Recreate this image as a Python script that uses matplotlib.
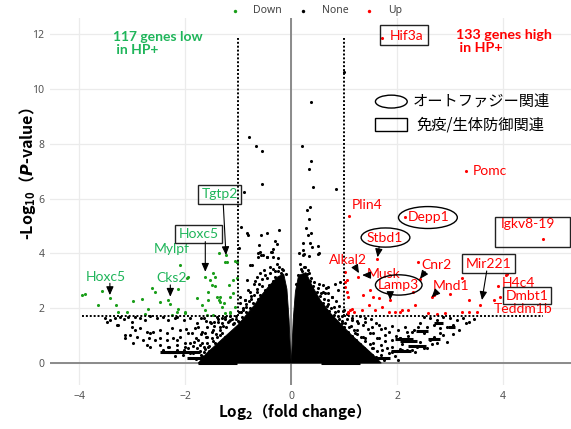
import matplotlib
matplotlib.use("Agg")
import matplotlib.pyplot as plt
from matplotlib.patches import Ellipse, Rectangle

plt.rcParams['mathtext.fontset'] = 'custom'
plt.rcParams['mathtext.rm'] = 'Noto Sans CJK JP:bold'
plt.rcParams['mathtext.bf'] = 'Noto Sans CJK JP:bold'
plt.rcParams['mathtext.it'] = 'DejaVu Sans:italic:bold'

# ---------------- data ----------------
# Down (green) genes
down_x = [-3.95, -3.89, -3.57, -3.64, -3.42, -3.30, -3.26, -3.10, -2.99, -2.82, -2.70, -2.75,
          -2.63, -2.57, -2.47, -2.32, -2.28, -2.25, -2.13, -2.09, -1.97, -1.94, -2.13, -2.00,
          -1.78, -1.68, -1.62, -1.53, -1.56, -1.56, -1.43, -1.40, -1.37, -1.34, -1.34, -1.26,
          -1.18, -1.15, -1.09, -1.06, -1.37, -1.21, -1.06, -1.02, -1.47, -1.59, -1.15, -1.23,
          -1.09, -1.02, -1.47, -1.43, -1.50, -1.25, -1.15, -1.25, -2.16, -2.00, -1.62, -1.30]
down_y = [2.48, 2.52, 2.63, 2.12, 2.36, 2.12, 1.87, 1.87, 2.26, 2.32, 1.96, 1.78,
          2.75, 2.60, 2.24, 2.30, 2.14, 1.75, 2.72, 3.58, 3.09, 3.15, 1.96, 1.81,
          2.36, 2.12, 3.13, 3.03, 2.60, 2.30, 2.81, 2.42, 2.30, 2.42, 2.24, 2.18,
          2.85, 2.42, 2.54, 2.06, 4.00, 3.70, 3.72, 3.70, 1.75, 1.75, 1.81, 3.94,
          3.03, 3.09, 3.27, 3.15, 2.85, 3.70, 1.87, 1.81, 1.87, 1.87, 1.95, 2.05]

# Up (red) genes
up_x = [1.71, 3.30, 1.09, 2.14, 1.62, 2.40, 4.76, 4.07, 3.91, 3.94, 3.82, 3.57,
        3.50, 3.35, 3.22, 3.35, 3.22, 3.00, 2.69, 2.59, 2.34, 2.21, 2.06, 2.91,
        2.75, 2.30, 1.02, 1.05, 1.08, 1.27, 1.43, 1.36, 1.55, 1.65, 1.58, 1.71,
        1.46, 1.33, 1.18, 1.08, 1.11, 1.84, 1.96, 2.09, 1.87, 1.02, 1.49, 1.02,
        1.05, 1.14, 1.08, 4.06, 2.65, 2.43]
up_y = [11.86, 7.00, 5.37, 5.32, 3.78, 3.70, 4.53, 3.25, 2.81, 2.42, 2.30, 2.12,
        1.87, 2.30, 1.87, 1.87, 3.09, 2.52, 2.48, 1.84, 2.12, 1.93, 1.87, 1.81,
        1.79, 2.60, 2.79, 2.60, 2.42, 3.15, 3.21, 2.48, 2.42, 2.36, 1.93, 2.06,
        2.12, 1.93, 1.87, 1.81, 1.93, 1.87, 1.87, 1.93, 2.30, 2.97, 2.66, 3.33,
        3.03, 1.99, 1.87, 3.21, 2.40, 3.07]

# Not significant (black) genes, scattered part
none_x = [-0.79, -0.66, -0.55, -0.55, -0.89, 0.21, 0.38, 0.34, 0.41, 0.85, 0.36, 0.29,
          0.33, -0.94, -0.84, -0.81, -0.57, -0.46, -0.23, 0.28, 0.38, 0.31, -0.60, -0.58,
          -0.53, -0.35, -0.38, -0.46, -0.30, -0.27, -0.35, -0.25, 0.23, 0.22, 0.25, 0.36,
          0.39, 0.50, 0.51, 0.33, -0.98, 0.37, 0.99, -0.62, -0.57, -1.02, -0.84, -0.74,
          -3.51, -3.42, -3.32, -3.23, -3.16, -3.07, -3.01, -2.94, -2.85, -2.75, -2.66, -2.53,
          -2.41, -2.32, -2.19, -3.48, -3.26, -3.01, -2.94, -2.85, -2.72, -2.66, -2.60, -2.47,
          -2.35, -2.25, -3.04, -2.91, -2.79, -2.69, -2.57, -2.47, -2.35, -2.22, -3.13, -2.98,
          -2.72, -2.47, -2.32, -2.16, -2.41, -2.28, -2.16, -2.66, -3.29, -3.13,
          -2.16, -2.03, -1.91, -1.78, -1.65, -1.53, -1.40, -2.09, -1.94, -1.81, -1.68, -1.59,
          -1.47, -1.34, -2.16, -2.00, -1.84, -1.72, -1.56, -1.43, -2.03, -1.91, -1.65, -1.47,
          -1.28, -1.15, -1.25, -0.98, -0.97, -0.96, -0.87, -0.81, -0.71, -0.65, -0.52, -0.40,
          -0.27, -0.77, -0.62, -0.46, -0.36,
          0.14, 0.23, 0.17, 0.26, 0.33, 0.20, 0.30, 0.39, 0.52, 0.61, 0.70, 0.83,
          0.92, 0.89, 0.64, 0.77, 0.99, 0.52,
          1.14, 1.27, 1.40, 1.52, 1.65, 1.77, 1.90, 2.02, 2.15, 2.28, 1.21, 1.36,
          1.49, 1.62, 1.77, 1.90, 2.06, 2.21, 1.33, 1.52, 1.71, 1.90, 2.09, 2.28,
          1.46, 1.77, 2.02, 2.50, 2.62, 2.75, 2.87, 3.00, 3.13, 3.25, 3.35, 2.43,
          2.56, 2.69, 2.81, 2.94, 3.06, 3.16, 2.31, 2.50, 2.69, 2.87, 2.18, 2.06,
          2.25, 2.43, 2.62, 2.75, 2.94, 2.37, 2.56, 2.18, 2.34]
none_y = [8.26, 7.93, 7.75, 6.53, 6.23, 7.92, 7.36, 7.07, 6.43, 6.36, 5.68, 5.58,
          5.26, 4.98, 4.73, 4.67, 4.68, 4.73, 4.85, 4.93, 4.76, 4.69, 4.29, 4.06,
          3.94, 4.16, 4.04, 3.86, 4.45, 4.34, 3.86, 3.85, 4.37, 4.12, 3.98, 4.39,
          4.25, 4.28, 3.98, 3.90, 4.20, 9.54, 10.63, 4.00, 3.94, 3.70, 3.03, 3.58,
          1.63, 1.57, 1.63, 1.69, 1.59, 1.67, 1.51, 1.69, 1.63, 1.57, 1.70, 1.63,
          1.69, 1.57, 1.63, 1.51, 1.39, 1.33, 1.20, 1.27, 1.14, 1.08, 1.14, 1.20,
          1.11, 1.27, 1.02, 0.96, 0.84, 0.90, 0.86, 0.93, 0.84, 0.90, 0.90, 0.74,
          0.66, 0.66, 0.60, 0.66, 0.47, 0.41, 0.47, 0.57, 1.39, 1.02,
          1.69, 1.57, 1.65, 1.45, 1.63, 1.51, 1.69, 1.20, 1.08, 1.27, 1.14, 0.96,
          1.20, 1.02, 0.84, 0.72, 0.78, 0.66, 0.60, 0.72, 0.47, 0.35, 0.41, 0.35,
          0.47, 1.57, 1.60, 1.85, 2.18, 2.42, 2.30, 2.66, 2.90, 3.15, 3.39, 3.51,
          3.63, 3.58, 3.88, 3.88, 4.06,
          4.00, 3.94, 3.63, 3.51, 3.27, 3.15, 2.97, 2.79, 2.90, 2.85, 2.79, 2.90,
          2.97, 2.66, 2.54, 2.42, 1.93, 4.00,
          1.57, 1.45, 1.51, 1.33, 1.39, 1.27, 1.35, 1.20, 1.30, 1.14, 1.08, 0.96,
          1.08, 0.90, 1.02, 0.84, 0.93, 0.84, 0.60, 0.54, 0.47, 0.41, 0.47, 0.47,
          0.23, 0.17, 0.11, 1.69, 1.63, 1.57, 1.69, 1.63, 1.57, 1.63, 1.51, 1.45,
          1.33, 1.39, 1.27, 1.33, 1.39, 1.20, 1.20, 1.08, 0.96, 1.02, 1.14, 0.90,
          0.84, 0.78, 0.84, 0.72, 0.78, 0.60, 0.54, 0.47, 0.41]

# Non-significant genes crowding the edge of the dense mass
fringe_x = [-1.45, -1.38, -1.30, -1.22, -1.18, -1.10, -1.05, -0.98, -0.92, -0.90, -1.30, -1.40,
            -1.48, -1.55, -1.62, -1.70, -1.20, -1.12, -0.85, -0.78, -0.72, -0.68, -0.62, -0.58,
            -0.50, -0.46, -0.42, -0.35, -0.30, -0.20, -0.15, -0.25, -0.10, -0.55, -0.65, -0.75,
            -0.85, -0.90, -1.35, -1.50, -1.60, -1.68, -1.78, -1.85, -1.95, -1.80, -1.70, -1.58,
            -1.52, -1.25,
            -1.90, -1.85, -1.80, -1.72, -1.65, -1.58, -1.50, -1.42, -1.35, -1.28, -1.20, -1.12,
            -1.05, -1.00, -0.95, -0.90, -0.85, -0.80, -0.75, -0.70, -0.65, -0.60, -0.55, -0.50,
            -0.45, -0.40, -0.35, -0.30, -0.22, -0.18, -1.95, -2.05, -2.00, -1.90, -1.75, -1.62,
            -1.45, -1.38, -1.30, -1.15, -1.08, -1.25, -1.55, -1.68, -2.20, -2.30, -2.10, -1.98,
            -1.88, -1.75, -1.60, -1.70, -0.88, -0.78, -0.68, -0.58, -0.62, -0.72, -0.82,
            0.30, 0.35, 0.42, 0.48, 0.55, 0.60, 0.68, 0.72, 0.80, 0.90, 0.95, 1.00,
            1.08, 1.15, 1.22, 1.30, 1.38, 1.45, 1.52, 1.60, 0.50, 0.65, 0.78, 0.92,
            1.05, 1.18, 1.32, 0.60, 0.70, 0.80, 0.88, 0.95, 1.05, 1.12, 1.25, 1.40,
            1.55, 1.70, 1.80, 0.20, 0.12, 0.10,
            1.75, 1.70, 1.62, 1.55, 1.48, 1.40, 1.32, 1.25, 1.18, 1.10, 1.02, 0.95,
            0.88, 0.82, 0.75, 0.70, 0.62, 0.56, 0.50, 0.44, 0.38, 0.32, 0.25, 0.18,
            1.85, 1.95, 1.90, 1.78, 1.65, 1.55, 1.45, 1.35, 1.25, 1.15, 1.05, 0.98,
            0.90, 0.85, 0.78, 0.70, 0.65, 2.05, 2.10, 1.98, 1.85, 1.70, 1.60, 1.50,
            1.40, 1.30, 2.20, 2.40, 2.50, 2.65, 2.80, 3.05, 3.30, 3.45]
fringe_y = [1.50, 1.62, 1.45, 1.30, 1.55, 1.42, 1.62, 1.50, 1.68, 1.35, 1.10, 0.95,
            0.80, 0.62, 0.50, 0.30, 0.85, 1.15, 1.85, 2.00, 2.20, 1.95, 2.35, 2.50,
            2.65, 2.40, 2.85, 3.00, 3.15, 3.30, 3.40, 3.35, 3.25, 2.80, 2.60, 2.45,
            2.15, 2.00, 1.30, 1.15, 0.95, 0.75, 0.55, 0.62, 0.55, 0.90, 1.05, 1.30,
            1.45, 1.68,
            0.20, 0.35, 0.15, 0.45, 0.60, 0.75, 0.90, 1.05, 1.20, 1.35, 1.50, 1.60,
            1.70, 1.55, 1.85, 1.95, 2.05, 2.25, 2.35, 2.50, 2.70, 2.90, 3.05, 3.20,
            3.10, 3.30, 3.45, 3.35, 3.50, 3.45, 0.40, 0.30, 0.60, 0.75, 0.85, 1.10,
            1.35, 1.50, 1.65, 1.70, 1.45, 0.95, 0.45, 0.25, 0.25, 0.60, 0.95, 1.25,
            1.10, 1.30, 1.55, 1.65, 2.30, 2.60, 3.00, 3.30, 2.15, 1.90, 1.70,
            3.25, 3.00, 2.80, 2.60, 2.45, 2.20, 2.10, 1.90, 1.75, 1.60, 1.45, 1.30,
            1.15, 1.00, 0.85, 0.70, 0.55, 0.40, 0.30, 0.22, 2.30, 1.95, 1.55, 1.20,
            1.05, 0.70, 0.40, 2.60, 2.30, 2.05, 1.90, 1.70, 1.60, 1.35, 1.20, 0.90,
            0.75, 0.65, 0.55, 3.35, 3.20, 2.90,
            0.10, 0.30, 0.45, 0.55, 0.70, 0.80, 0.95, 1.05, 1.20, 1.30, 1.45, 1.55,
            1.70, 1.85, 2.00, 2.15, 2.35, 2.55, 2.75, 2.95, 3.10, 3.40, 3.50, 3.45,
            0.35, 0.25, 0.60, 0.80, 0.90, 1.10, 1.25, 1.40, 1.55, 1.65, 1.80, 1.90,
            2.10, 2.25, 2.40, 2.55, 2.75, 0.50, 0.70, 1.00, 1.15, 1.25, 1.45, 1.60,
            1.65, 1.70, 1.00, 1.30, 0.55, 0.70, 1.10, 1.05, 1.45, 1.60]

# Dense core of non-significant genes (outline of the solid mass)
core_left_x = [-1.75, -1.60, -1.40, -1.20, -1.00, -0.85, -0.70, -0.55, -0.40, -0.25, -0.14,
               -0.08, -0.04, -0.015, 0.0]
core_left_y = [0.00, 0.35, 0.70, 1.05, 1.40, 1.75, 2.10, 2.50, 2.85, 3.15, 3.25,
               2.70, 1.60, 0.50, 0.00]
core_right_x = [0.0, 0.015, 0.04, 0.08, 0.14, 0.28, 0.40, 0.55, 0.75, 0.95, 1.15, 1.35,
                1.55, 1.70]
core_right_y = [0.00, 0.50, 1.60, 2.60, 3.20, 3.30, 2.80, 2.30, 1.80, 1.40, 1.00, 0.65,
                0.30, 0.00]

# Horizontal streaks of overlapping points (y, x start, x end)
streak_y = [0.41, 0.20, 0.01, 0.41, 0.00, 0.20, 0.44, 0.63, 0.88, 0.88, 1.17, 1.33, 0.80, 1.45]
streak_x0 = [-2.32, -1.96, -1.75, -2.47, 0.57, 1.42, 1.89, 2.20, 1.96, 2.58, 2.36, 2.96, 2.06, 2.69]
streak_x1 = [-1.72, -1.34, -1.02, -2.09, 1.30, 1.87, 2.26, 2.55, 2.30, 2.81, 2.58, 3.09, 2.38, 2.87]

fc_thr = 1.0
p_thr = 1.72
y_top_line = 11.86

green_labels = [("Mylpf", -2.25, 4.15), ("Hoxc5", -3.50, 3.13), ("Cks2", -2.25, 3.09)]
red_labels = [("Pomc", 3.42, 7.00, 'left'), ("Plin4", 1.43, 5.77, 'center'),
              ("Alkal2", 1.08, 3.76, 'center'), ("Musk", 1.74, 3.25, 'center'),
              ("Cnr2", 2.75, 3.58, 'center'), ("Mnd1", 3.01, 2.81, 'center'),
              ("H4c4", 4.29, 2.92, 'center'), ("Teddm1b", 4.38, 1.98, 'center')]

GREEN_PT = '#1a9e1a'
GREEN_TXT = '#1fb55a'
RED = '#ff0000'

# ---------------- figure ----------------
fig = plt.figure(figsize=(5.71, 4.29), dpi=100)
ax = fig.add_axes([50/571, 1-385/429, 521/571, 367/429])
ax.set_xlim(-4.55, 5.28)
ax.set_ylim(-0.80, 12.59)
for s in ax.spines.values():
    s.set_visible(False)
ax.set_xticks([-4, -2, 0, 2, 4])
ax.set_yticks([0, 2, 4, 6, 8, 10, 12])
ax.set_xticklabels(['−4', '−2', '0', '2', '4'])
ax.tick_params(length=0, labelsize=7.5, labelcolor='#555555', pad=4)
for lab in ax.get_xticklabels() + ax.get_yticklabels():
    lab.set_family('Noto Sans')
ax.grid(True, color='#ebebeb', lw=0.9)
ax.set_axisbelow(True)

ax.axhline(0, color='#8a8a8a', lw=1.4, zorder=1)
ax.axvline(0, color='#8a8a8a', lw=1.4, zorder=1)

ax.fill(core_left_x, core_left_y, color='black', lw=0.6, zorder=2)
ax.fill(core_right_x, core_right_y, color='black', lw=0.6, zorder=2)
ax.hlines(streak_y, streak_x0, streak_x1, color='black', lw=2.2, zorder=2)

h_none = ax.scatter(none_x, none_y, s=5, c='black', lw=0, zorder=3)
ax.scatter(fringe_x, fringe_y, s=5, c='black', lw=0, zorder=3)
h_down = ax.scatter(down_x, down_y, s=5, c=GREEN_PT, lw=0, zorder=3)
h_up = ax.scatter(up_x, up_y, s=5, c=RED, lw=0, zorder=3)

dot = (0, (1.0, 1.0))
ax.plot([-fc_thr, -fc_thr], [p_thr, y_top_line], color='black', lw=1.4, ls=dot, zorder=4)
ax.plot([fc_thr, fc_thr], [p_thr, y_top_line], color='black', lw=1.4, ls=dot, zorder=4)
ax.plot([-3.95, -fc_thr], [p_thr, p_thr], color='black', lw=1.4, ls=dot, zorder=4)
ax.plot([fc_thr, 4.75], [p_thr, p_thr], color='black', lw=1.4, ls=dot, zorder=4)

leg = ax.legend([h_down, h_none, h_up], ['Down', 'None', 'Up'], loc='lower center',
                bbox_to_anchor=(0.51, 0.99), ncol=3, frameon=False,
                handletextpad=1.3, columnspacing=1.5, borderaxespad=0.1, markerscale=1.1,
                handlelength=1.0, prop={'family': 'Noto Sans', 'size': 7.5})
for t in leg.get_texts():
    t.set_color('#444444')

fig.text(0.048, 255/429, '-Log$_{10}$（$P$-value）', rotation=90, ha='center', va='center',
         family='Noto Sans CJK JP', weight='bold', fontsize=11.5)
fig.text(290/571, 1-412/429, 'Log$_{2}$（fold change）', ha='center', va='center',
         family='Noto Sans CJK JP', weight='bold', fontsize=11)

GF = 'Lato'
ax.text(-3.36, 12.1, '117 genes low\n in HP+', color=GREEN_TXT, fontsize=10, weight='bold',
        family=GF, ha='left', va='top', linespacing=1.1, zorder=6)
ax.text(3.11, 12.2, '133 genes high\n in HP+', color=RED, fontsize=10.3, weight='bold',
        family=GF, ha='left', va='top', linespacing=1.1, zorder=6)

ax.add_patch(Ellipse((1.89, 9.54), 0.60, 0.47, fill=False, ec='black', lw=1.0, zorder=6))
ax.text(2.30, 9.54, 'オートファジー関連', family='Noto Sans CJK JP', fontsize=11,
        ha='left', va='center', zorder=6)
ax.add_patch(Rectangle((1.585, 8.465), 0.60, 0.47, fill=False, ec='black', lw=1.0, zorder=6))
ax.text(2.36, 8.70, '免疫/生体防御関連', family='Noto Sans CJK JP', fontsize=11,
        ha='left', va='center', zorder=6)

for t, x, y in green_labels:
    ax.text(x, y, t, color=GREEN_TXT, fontsize=10, family=GF, ha='center', va='center', zorder=6)
for t, x, y, ha in red_labels:
    ax.text(x, y, t, color=RED, fontsize=10, family=GF, ha=ha, va='center', zorder=6)

box = dict(boxstyle='square,pad=0.25', fc='none', ec='#222222', lw=1.0)
ax.text(2.18, 11.92, 'Hif3a', color=RED, fontsize=10, family=GF, ha='center', va='center', zorder=6)
ax.add_patch(Rectangle((1.68, 11.61), 0.90, 0.73, fill=False, ec='#222222', lw=1.0, zorder=6))
ax.text(-1.35, 6.16, 'Tgtp2', color=GREEN_TXT, fontsize=10, family=GF, ha='center', va='center',
        bbox=box, zorder=6)
ax.text(-1.75, 4.71, 'Hoxc5', color=GREEN_TXT, fontsize=10, family=GF, ha='center', va='center',
        bbox=box, zorder=6)
ax.text(3.72, 3.62, 'Mir221', color=RED, fontsize=10, family=GF, ha='center', va='center',
        bbox=box, zorder=6)
ax.text(4.45, 2.46, 'Dmbt1', color=RED, fontsize=10, family=GF, ha='center', va='center',
        bbox=dict(boxstyle='square,pad=0.18', fc='none', ec='#222222', lw=1.0), zorder=6)
ax.text(4.47, 5.07, 'Igkv8-19', color=RED, fontsize=10, family=GF, ha='center', va='center', zorder=6)
ax.add_patch(Rectangle((3.85, 4.23), 1.41, 1.10, fill=False, ec='#222222', lw=1.0, zorder=6))

ax.text(2.60, 5.33, 'Depp1', color=RED, fontsize=10, family=GF, ha='center', va='center', zorder=6)
ax.add_patch(Ellipse((2.58, 5.31), 1.11, 0.80, fill=False, ec='black', lw=1.0, zorder=6))
ax.text(1.77, 4.56, 'Stbd1', color=RED, fontsize=10, family=GF, ha='center', va='center', zorder=6)
ax.add_patch(Ellipse((1.78, 4.58), 0.92, 0.70, fill=False, ec='black', lw=1.0, zorder=6))
ax.text(2.03, 2.85, 'Lamp3', color=RED, fontsize=10, family=GF, ha='center', va='center', zorder=5)
ax.add_patch(Ellipse((2.03, 2.85), 0.88, 0.74, fill=False, ec='black', lw=1.0, zorder=6))

arrows = [((-1.28, 5.77), (-1.23, 3.94)), ((-1.62, 4.43), (-1.62, 3.33)),
          ((-3.42, 2.91), (-3.42, 2.48)), ((-2.28, 2.85), (-2.28, 2.42)),
          ((1.66, 4.23), (1.63, 3.86)), ((1.21, 3.51), (1.28, 3.28)),
          ((1.43, 3.21), (1.34, 3.21)), ((2.53, 3.33), (2.43, 3.07)),
          ((1.87, 2.50), (1.87, 2.30)), ((2.75, 2.60), (2.65, 2.40)),
          ((3.69, 3.36), (3.60, 2.30))]
for (x0, y0), (x1, y1) in arrows:
    ax.annotate('', xy=(x1, y1), xytext=(x0, y0),
                arrowprops=dict(arrowstyle='-|>,head_length=0.5,head_width=0.22', color='black',
                                lw=0.8, shrinkA=0, shrinkB=0), zorder=6)

fig.savefig('out.png', dpi=100)
